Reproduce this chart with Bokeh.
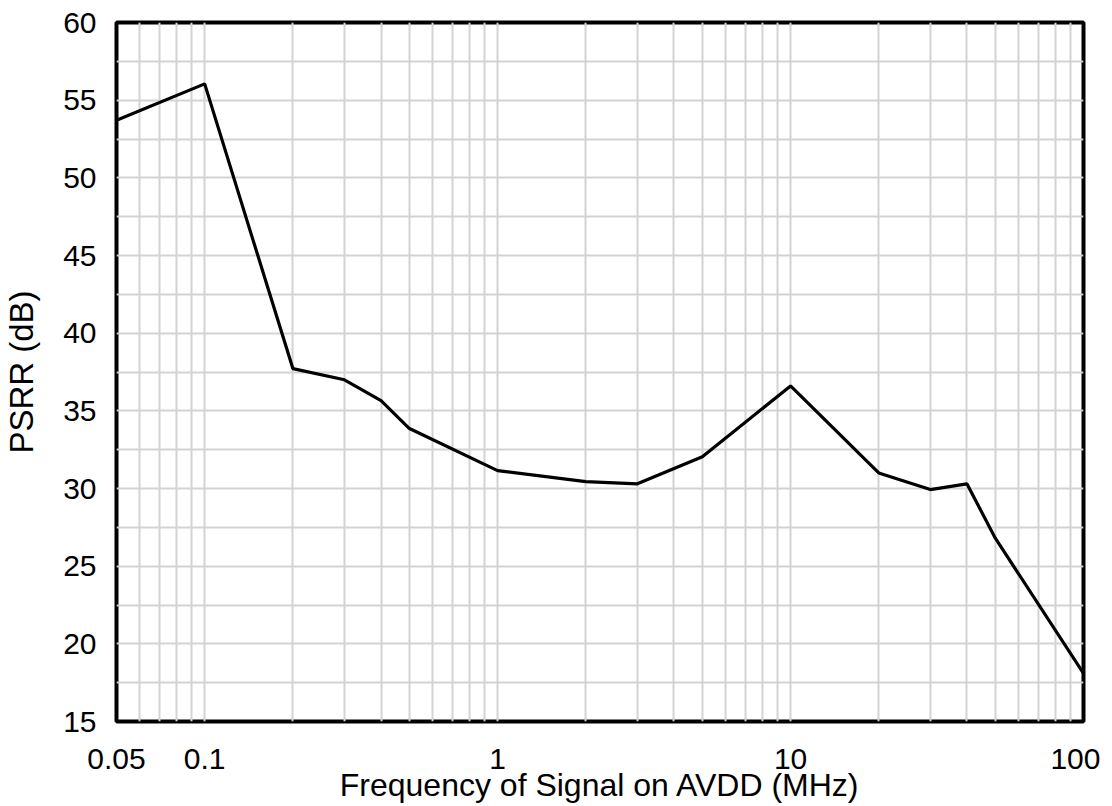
from bokeh.plotting import figure
from bokeh.models import FixedTicker, Range1d
from bokeh.embed import file_html
from bokeh.resources import INLINE

freq_mhz = [0.05, 0.1, 0.2, 0.3, 0.4, 0.5, 1, 2, 3, 5, 10, 20, 30, 40, 50, 100]
psrr_db = [53.7, 56.05, 37.72, 37.0, 35.66, 33.86, 31.15, 30.44, 30.3, 32.05, 36.6, 31.0, 29.93, 30.3, 26.8, 18.1]

x_major = [0.05, 0.1, 1, 10, 100]
x_minor = [0.06, 0.07, 0.08, 0.09,
           0.2, 0.3, 0.4, 0.5, 0.6, 0.7, 0.8, 0.9,
           2, 3, 4, 5, 6, 7, 8, 9,
           20, 30, 40, 50, 60, 70, 80, 90]
y_major = [15, 20, 25, 30, 35, 40, 45, 50, 55, 60]
y_minor = [17.5, 22.5, 27.5, 32.5, 37.5, 42.5, 47.5, 52.5, 57.5]

FONT = "Liberation Sans"

p = figure(width=1100, height=806, x_axis_type="log",
           x_range=Range1d(0.05, 100), y_range=Range1d(15, 60),
           output_backend="svg", toolbar_location=None,
           min_border_left=116, min_border_top=22, min_border_right=17, min_border_bottom=85)

p.line(freq_mhz, psrr_db, line_color="black", line_width=3.2)

p.xaxis.ticker = FixedTicker(ticks=x_major, minor_ticks=x_minor)
p.yaxis.ticker = FixedTicker(ticks=y_major, minor_ticks=y_minor)
p.xaxis.major_label_overrides = {0.05: "0.05", 0.1: "0.1", 1: "1", 10: "10", 100: "100"}

for ax in (p.xaxis[0], p.yaxis[0]):
    ax.axis_line_color = None
    ax.major_tick_line_color = None
    ax.minor_tick_line_color = None
    ax.major_label_text_font = FONT
    ax.major_label_text_font_size = "30px"
    ax.major_label_text_color = "black"
    ax.axis_label_text_font = FONT
    ax.axis_label_text_font_style = "normal"
    ax.axis_label_text_color = "black"

p.xaxis.axis_label_text_font_size = "32px"
p.yaxis.axis_label_text_font_size = "33px"
p.xaxis.axis_label = "Frequency of Signal on AVDD (MHz)"
p.yaxis.axis_label = "PSRR (dB)"
p.xaxis.major_label_standoff = 21
p.xaxis.axis_label_standoff = -5
p.yaxis.major_label_standoff = 14
p.yaxis.axis_label_standoff = 20

for g in (p.xgrid[0], p.ygrid[0]):
    g.grid_line_color = "#d3d3d3"
    g.grid_line_width = 2
    g.minor_grid_line_color = "#d3d3d3"
    g.minor_grid_line_width = 2

p.outline_line_color = "black"
p.outline_line_width = 4
p.background_fill_color = "white"
p.border_fill_color = "white"

open("out.html", "w").write(file_html(p, INLINE))
